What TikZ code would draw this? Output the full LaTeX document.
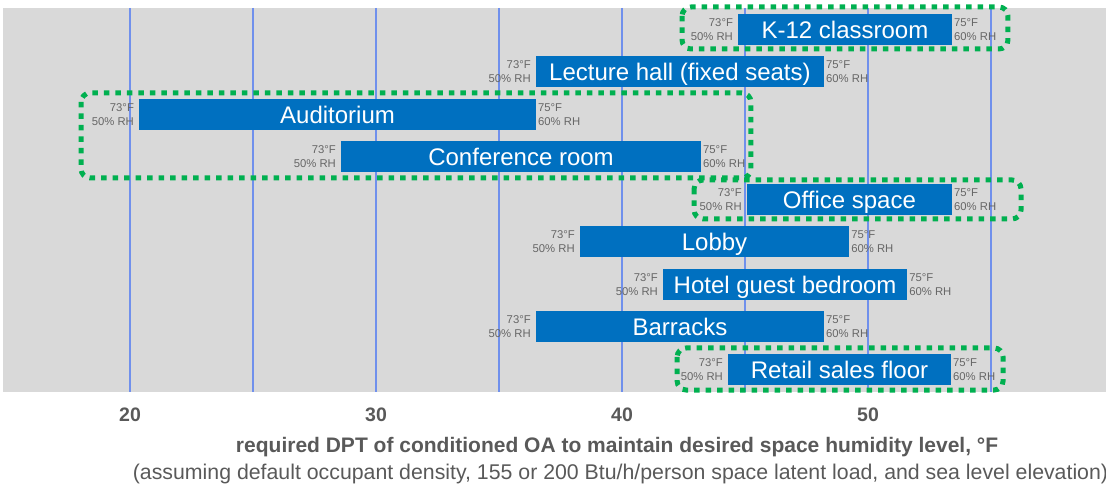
\documentclass[tikz,border=0pt]{standalone}
\usepackage{fontspec}
\setmainfont{Liberation Sans}
\usetikzlibrary{calc,positioning}
\definecolor{plotGray}{HTML}{D9D9D9}
\definecolor{barBlue}{HTML}{0070C0}
\definecolor{gridBlue}{HTML}{7090EC}
\definecolor{boxGreen}{HTML}{00B050}
\definecolor{textGray}{HTML}{595959}
\definecolor{lblGray}{HTML}{666666}

\begin{document}
\begin{tikzpicture}[
  x=24.6pt, y=-1pt,
  line cap=butt,
  every node/.style={inner sep=0pt},
  gridline/.style={gridBlue, line width=1.2pt},
  bartext/.style={text=white, font=\fontsize{24}{26}\selectfont, anchor=base},
  sidelbl/.style={text=lblGray, font=\fontsize{11.3}{14}\selectfont},
  ticklbl/.style={text=textGray, font=\fontsize{19.5}{22}\selectfont\bfseries},
  groupbox/.style={boxGreen, line width=5pt, dash pattern=on 5.5pt off 6pt,
    rounded corners=9pt}
]
  % Canvas, 1 px = 1 pt
  \useasboundingbox (14.7154,0) rectangle (59.675,486);

  % Plot area
  \fill[plotGray] (14.84,8) rectangle (59.675,392);

  % Gridlines every 5 F
  \foreach \t in {20,25,...,55}
    \draw[gridline] (\t,8) -- (\t,392);

  % Bars: low DPT / high DPT / row centre / space type
  \foreach \lo/\hi/\row/\name [count=\i] in {
      44.72/53.41/29.5/{K-12 classroom},
      36.50/48.21/72/{Lecture hall (fixed seats)},
      20.37/36.50/114.5/{Auditorium},
      28.58/43.21/157/{Conference room},
      45.08/53.41/199.5/{Office space},
      38.29/49.23/242/{Lobby},
      41.67/51.59/284.5/{Hotel guest bedroom},
      36.50/48.21/327/{Barracks},
      44.31/53.37/369.5/{Retail sales floor}} {
    \coordinate (L\i) at (\lo,\row);
    \coordinate (R\i) at (\hi,\row);
    \fill[barBlue] ($(L\i)+(0,15.5)$) rectangle ($(R\i)+(0,-15.5)$);
    \node[bartext] (bar\i) at ($(L\i)!0.5!(R\i)+(0,8.6)$) {\name};
    \node[sidelbl, align=right, left=5pt of L\i] (lo\i) {73°F\\50\% RH};
    \node[sidelbl, align=left, right=2pt of R\i] (hi\i) {75°F\\60\% RH};
  }

  % Dotted green groupings
  \draw[groupbox] (42.44,7) rectangle (55.69,49);
  \draw[groupbox] (18.01,93) rectangle (45.24,178);
  \draw[groupbox] (42.93,180) rectangle (56.22,219);
  \draw[groupbox] (42.24,348) rectangle (55.49,390);

  % Axis numbers
  \foreach \t in {20,30,40,50}
    \node[ticklbl, anchor=base] (tick\t) at (\t,421) {\t};

  % Axis title and note
  \node[text=textGray, font=\fontsize{21}{23}\selectfont\bfseries, anchor=base]
    (xtitle) at (39.80,452.5) {required DPT of conditioned OA to maintain desired space humidity level, °F};
  \node[text=textGray, font=\fontsize{21.3}{23}\selectfont, anchor=base]
    (xnote) at (39.94,479.5) {(assuming default occupant density, 155 or 200 Btu/h/person space latent load, and sea level elevation)};
\end{tikzpicture}
\end{document}
